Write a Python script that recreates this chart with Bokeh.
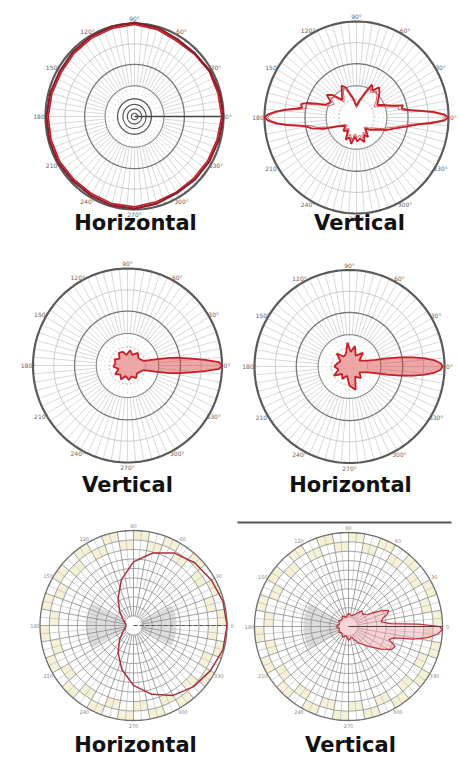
import numpy as np
from bokeh.plotting import figure
from bokeh.models import Range1d
from bokeh.core.properties import value
from bokeh.embed import file_html
from bokeh.resources import INLINE

# ---------------- data (relative level 0..1) ----------------
lab_angles = [0, 30, 60, 90, 120, 150, 180, 210, 240, 270, 300, 330]
lab_deg = ["0°", "30°", "60°", "90°", "120°", "150°", "180°", "210°", "240°", "270°", "300°", "330°"]
lab_num = ["0", "30", "60", "90", "120", "150", "180", "210", "240", "270", "300", "330"]

titles = ["Horizontal", "Vertical", "Vertical", "Horizontal", "Horizontal", "Vertical"]

# chart 1 : horizontal, omni
c1_ang = [0, 15, 30, 45, 60, 75, 90, 105, 120, 135, 150, 165, 180, 195, 210, 225, 240, 255, 270, 285, 300, 315, 330, 345, 360]
c1_a = [1.0, 0.99, 0.98, 0.96, 0.96, 0.99, 1.01, 1.0, 0.99, 0.98, 0.97, 0.98, 0.99, 0.99, 0.99, 0.98, 0.98, 0.99, 0.99, 0.97, 0.95, 0.96, 0.97, 0.98, 1.0]
c1_b = [0.98, 0.97, 0.97, 0.95, 0.94, 0.97, 0.99, 0.98, 0.97, 0.96, 0.95, 0.96, 0.97, 0.97, 0.97, 0.96, 0.96, 0.97, 0.97, 0.95, 0.94, 0.94, 0.95, 0.96, 0.98]

# chart 2 : vertical, bidirectional
c2_ang = [0, 2, 4, 6, 8, 11, 14, 18, 24, 30, 38, 46, 52, 58, 64, 70, 80, 90, 100, 110, 116, 122, 130, 138, 144, 150, 158, 164, 167, 170, 172, 174, 176, 178, 180,
          182, 184, 186, 188, 190, 193, 198, 205, 215, 225, 235, 243, 250, 258, 265, 272, 280, 288, 295, 302, 310, 320, 330, 338, 344, 348, 350, 352, 354, 356, 358, 360]
c2_a = [1.0, 0.95, 0.84, 0.68, 0.56, 0.5, 0.52, 0.4, 0.32, 0.26, 0.3, 0.36, 0.4, 0.33, 0.38, 0.28, 0.18, 0.12, 0.2, 0.33, 0.37, 0.3, 0.24, 0.35, 0.4, 0.32, 0.36, 0.55, 0.62, 0.6, 0.66, 0.78, 0.88, 0.96, 1.0,
        0.96, 0.88, 0.76, 0.62, 0.55, 0.5, 0.38, 0.22, 0.15, 0.2, 0.16, 0.26, 0.22, 0.28, 0.2, 0.25, 0.22, 0.27, 0.2, 0.24, 0.15, 0.2, 0.25, 0.35, 0.42, 0.5, 0.55, 0.6, 0.68, 0.82, 0.95, 1.0]
c2_b = [0.97, 0.92, 0.8, 0.64, 0.52, 0.46, 0.47, 0.36, 0.28, 0.22, 0.27, 0.32, 0.35, 0.3, 0.34, 0.24, 0.15, 0.1, 0.17, 0.29, 0.33, 0.26, 0.21, 0.31, 0.35, 0.28, 0.32, 0.5, 0.57, 0.55, 0.61, 0.74, 0.85, 0.93, 0.97,
        0.93, 0.85, 0.72, 0.58, 0.5, 0.45, 0.33, 0.19, 0.13, 0.17, 0.14, 0.22, 0.19, 0.24, 0.17, 0.21, 0.19, 0.23, 0.17, 0.2, 0.13, 0.17, 0.22, 0.31, 0.38, 0.46, 0.5, 0.55, 0.64, 0.78, 0.92, 0.97]

# chart 3 : vertical, single lobe
c3_ang = [0, 2, 4, 6, 8, 10, 12, 15, 25, 35, 50, 65, 80, 95, 110, 125, 140, 155, 170, 185, 200, 215, 230, 245, 260, 275, 290, 305, 320, 335, 345, 348, 350, 352, 354, 356, 358, 360]
c3_r = [1.0, 0.97, 0.82, 0.68, 0.56, 0.45, 0.3, 0.18, 0.15, 0.14, 0.17, 0.12, 0.16, 0.11, 0.15, 0.16, 0.11, 0.15, 0.13, 0.15, 0.1, 0.16, 0.12, 0.16, 0.11, 0.15, 0.12, 0.16, 0.13, 0.15, 0.18, 0.3, 0.45, 0.56, 0.68, 0.82, 0.97, 1.0]

# chart 4 : horizontal, single lobe
c4_ang = [0, 2, 4, 6, 8, 10, 12, 14, 18, 30, 45, 60, 75, 85, 95, 105, 120, 135, 150, 165, 180, 195, 210, 225, 240, 255, 270, 285, 300, 315, 330, 342, 346, 348, 350, 352, 354, 356, 358, 360]
c4_r = [0.98, 0.96, 0.9, 0.8, 0.68, 0.54, 0.4, 0.28, 0.2, 0.12, 0.2, 0.13, 0.22, 0.15, 0.25, 0.14, 0.12, 0.19, 0.11, 0.13, 0.16, 0.12, 0.19, 0.11, 0.15, 0.1, 0.2, 0.25, 0.12, 0.17, 0.12, 0.2, 0.28, 0.4, 0.54, 0.68, 0.8, 0.9, 0.96, 0.98]

# chart 5 : horizontal, cardioid
c5_ang = [0, 15, 30, 45, 60, 75, 90, 105, 120, 135, 150, 165, 180, 195, 210, 225, 240, 255, 270, 285, 300, 315, 330, 345, 360]
c5_r = [1.0, 0.99, 0.96, 0.93, 0.88, 0.79, 0.67, 0.5, 0.33, 0.21, 0.13, 0.09, 0.08, 0.09, 0.13, 0.21, 0.33, 0.48, 0.63, 0.75, 0.85, 0.91, 0.95, 0.99, 1.0]

# chart 6 : vertical, lobe with side lobes
c6_ang = [0, 2, 4, 8, 14, 18, 22, 26, 32, 40, 50, 60, 75, 90, 105, 120, 135, 150, 165, 180, 195, 210, 225, 240, 255, 270, 285, 300, 315, 325, 332, 337, 342, 346, 349, 352, 355, 358, 360]
c6_r = [0.97, 0.75, 0.45, 0.35, 0.38, 0.44, 0.46, 0.38, 0.25, 0.2, 0.22, 0.15, 0.12, 0.14, 0.1, 0.13, 0.1, 0.12, 0.1, 0.13, 0.1, 0.12, 0.1, 0.13, 0.1, 0.15, 0.12, 0.2, 0.3, 0.42, 0.52, 0.54, 0.45, 0.5, 0.7, 0.85, 0.95, 1.0, 0.97]

# ---------------- layout ----------------
W, H = 459, 762
# (cx, cy, Rx, Ry) in page pixels
CENTERS = [(134, 116, 89, 93), (356, 117, 92, 96), (127, 365, 94.5, 97), (349, 366, 95, 96.5),
           (133, 625, 93.5, 95), (348, 626, 94, 94)]
TITLE_POS = [(135, 222), (359, 222), (127, 484), (350, 484), (135, 744), (350, 744)]
FONT = "DejaVu Sans"

p = figure(width=W, height=H, x_range=Range1d(0, W), y_range=Range1d(H, 0),
           output_backend="svg", toolbar_location=None, min_border=0,
           x_axis_location=None, y_axis_location=None)
p.grid.visible = False
p.outline_line_color = None
p.background_fill_color = "white"
p.border_fill_color = "white"


def xy(c, ang, r):
    cx, cy, rx, ry = c
    t = np.radians(np.asarray(ang, dtype=float))
    r = np.asarray(r, dtype=float)
    return cx + rx * r * np.cos(t), cy - ry * r * np.sin(t)


def ring(c, f, color, width, dash="solid"):
    t = np.linspace(0, 360, 181)
    x, y = xy(c, t, np.full_like(t, f))
    p.line(x, y, line_color=color, line_width=width, line_dash=dash)


def spokes(c, step, r0, r1, color, width, dash="solid", skip=None):
    xs, ys = [], []
    for a in np.arange(0, 360, step):
        if skip is not None and a % skip == 0:
            continue
        x, y = xy(c, [a, a], [r0, r1])
        xs.append(list(x)); ys.append(list(y))
    p.multi_line(xs, ys, line_color=color, line_width=width, line_dash=dash)


def sector(c, a0, a1, r0, r1):
    t = np.linspace(a0, a1, 16)
    xo, yo = xy(c, t, np.full_like(t, r1))
    xi, yi = xy(c, t[::-1], np.full_like(t, r0))
    return list(np.concatenate([xo, xi])), list(np.concatenate([yo, yi]))


def labels(c, texts, gap, size, color):
    cx, cy, rx, ry = c
    t = np.radians(np.asarray(lab_angles, dtype=float))
    x = cx + (rx + gap) * np.cos(t)
    y = cy - (ry + gap) * np.sin(t)
    p.text(x=list(x), y=list(y), text=texts, text_font=value(FONT), text_font_size=size,
           text_color=color, text_align="center", text_baseline="middle")


def grid_a(c, small_rings=False):
    spokes(c, 5, 0.33, 1.0, "#c8c8c8", 0.7)
    spokes(c, 10, 0.19, 0.33, "#d0d0d0", 0.6, dash="2 2")
    ring(c, 0.78, "#bcbcbc", 0.8)
    ring(c, 0.56, "#777777", 1.3)
    ring(c, 0.33, "#888888", 1.1)
    ring(c, 0.19, "#aaaaaa", 0.8, dash="2 2")
    if small_rings:
        for f in (0.19, 0.13, 0.08, 0.035):
            ring(c, f, "#555555", 1.2)
    ring(c, 1.0, "#5a5a5a", 2.2)
    labels(c, lab_deg, 5, "6px", "#666666")


def grid_b(c, grey_sides):
    xs, ys = [], []
    for k, a in enumerate(range(0, 360, 10)):
        band = (0.9, 1.0) if k % 2 == 0 else (0.8, 0.9)
        x, y = sector(c, a, a + 10, band[0], band[1])
        xs.append(x); ys.append(y)
    p.patches(xs, ys, fill_color="#f4f1d6", line_color=None)
    gx, gy = [], []
    for (a0, a1, r0, r1) in grey_sides:
        x, y = sector(c, a0, a1, r0, r1)
        gx.append(x); gy.append(y)
    p.patches(gx, gy, fill_color="#cfcfcf", fill_alpha=0.7, line_color=None)
    spokes(c, 5, 0.4, 1.0, "#b5b5b5", 0.6, skip=10)
    spokes(c, 10, 0.1, 1.0, "#8c8c8c", 0.8)
    for f in np.arange(0.1, 1.0, 0.1):
        ring(c, f, "#8c8c8c", 0.8)
    ring(c, 1.0, "#6e6e6e", 1.3)
    labels(c, lab_num, 5, "5px", "#888888")


RED = "#c81e28"
DARK = "#8a1f2c"

# chart 1
c = CENTERS[0]
grid_a(c, small_rings=True)
x, y = xy(c, [0, 0], [0.0, 1.0])
p.line(x, y, line_color="#444444", line_width=1.3)
x, y = xy(c, c1_ang, c1_b)
p.line(x, y, line_color=RED, line_width=1.6)
x, y = xy(c, c1_ang, c1_a)
p.line(x, y, line_color=DARK, line_width=2.2)

# chart 2
c = CENTERS[1]
grid_a(c)
x, y = xy(c, c2_ang, c2_b)
p.line(x, y, line_color="#d9606a", line_width=1.0)
x, y = xy(c, c2_ang, c2_a)
p.line(x, y, line_color=RED, line_width=1.8)

# chart 3
c = CENTERS[2]
grid_a(c)
x, y = xy(c, c3_ang, c3_r)
p.patch(x, y, fill_color="#d83a3a", fill_alpha=0.45, line_color=RED, line_width=1.8)

# chart 4
c = CENTERS[3]
grid_a(c)
x, y = xy(c, c4_ang, c4_r)
p.patch(x, y, fill_color="#d83a3a", fill_alpha=0.45, line_color=RED, line_width=1.8)

# chart 5
c = CENTERS[4]
grid_b(c, [(152, 208, 0.08, 0.5), (-28, 28, 0.08, 0.46)])
x, y = xy(c, [0, 0], [0.0, 1.0])
p.line(x, y, line_color="#555555", line_width=1.0, line_dash="4 2")
x, y = xy(c, c5_ang, c5_r)
p.line(x, y, line_color="#a8303c", line_width=1.5)

# chart 6
c = CENTERS[5]
grid_b(c, [(150, 210, 0.12, 0.48)])
x, y = xy(c, c6_ang, c6_r)
p.patch(x, y, fill_color="#f0a0a8", fill_alpha=0.45, line_color="#c0303a", line_width=1.2)
x, y = xy(c, [0, 0], [0.0, 1.0])
p.line(x, y, line_color="#444444", line_width=1.1)
p.line(x=[237, 451], y=[522, 522], line_color="#555555", line_width=2)

# titles
tx = [t[0] for t in TITLE_POS]
ty = [t[1] for t in TITLE_POS]
p.text(x=tx, y=ty, text=titles, text_font=value(FONT), text_font_size="21px", text_font_style="bold",
       text_color="#111111", text_align="center", text_baseline="middle")

open("out.html", "w").write(file_html(p, INLINE))
